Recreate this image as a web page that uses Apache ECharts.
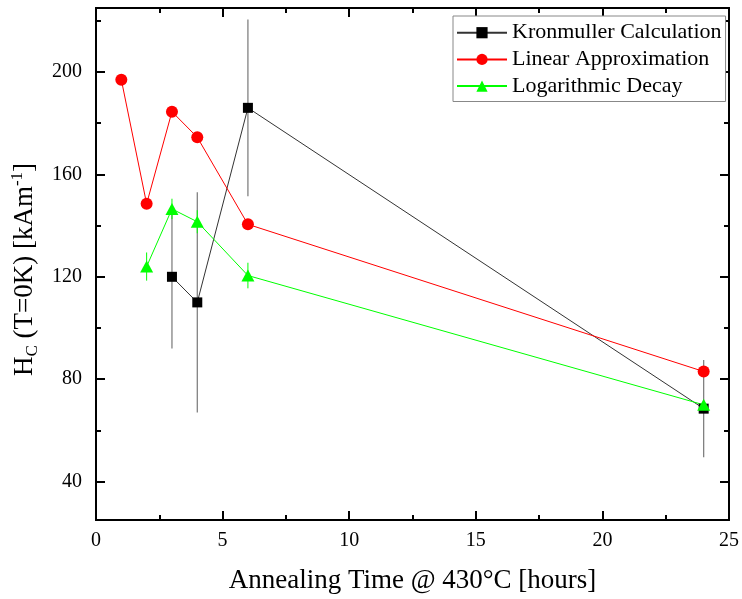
<!DOCTYPE html>
<html>
<head>
<meta charset="utf-8">
<script src="https://cdn.jsdelivr.net/npm/echarts@6/dist/echarts.min.js"></script>
<style>
  html, body { margin: 0; padding: 0; background: #fff; }
  #chart { width: 742px; height: 599px; }
</style>
</head>
<body>
<div id="chart"></div>
<script>
// Coercivity H_C (T=0K) versus annealing time at 430 °C
const kronX = [3, 4, 6, 24];
const kronY = [120, 110, 186, 68.5];
const kronErr = [28, 43, 34.5, 19];

const linX = [1, 2, 3, 4, 6, 24];
const linY = [197, 148.5, 184.5, 174.5, 140.5, 83];

const logX = [2, 3, 4, 6, 24];
const logY = [124, 146.5, 141.5, 120.5, 70];
const logErr = [5.5, 4, 4.5, 5, 1];

const xTicks = [0, 5, 10, 15, 20, 25];
const yTicks = [40, 80, 120, 160, 200];
const yMinorTicks = [60, 100, 140, 180, 220];

const SERIF = 'Liberation Serif';

function pairs(xs, ys) {
  return xs.map((x, i) => [x, ys[i]]);
}
function bars(xs, ys, es) {
  return xs.map((x, i) => [x, ys[i] - es[i], ys[i] + es[i]]);
}
function errorBarSeries(name, data, color, width) {
  return {
    name: name,
    type: 'custom',
    xAxisIndex: 0,
    yAxisIndex: 0,
    data: data,
    renderItem: function (params, api) {
      const lo = api.coord([api.value(0), api.value(1)]);
      const hi = api.coord([api.value(0), api.value(2)]);
      return {
        type: 'line',
        shape: { x1: lo[0], y1: lo[1], x2: hi[0], y2: hi[1] },
        style: { stroke: color, lineWidth: width }
      };
    }
  };
}

const axisLineStyle = { color: '#000', width: 2 };

function yAxisDef(position, values, len, withLabels) {
  return {
    type: 'value',
    position: position,
    min: 25,
    max: 225,
    axisLine: { show: true, lineStyle: axisLineStyle },
    splitLine: { show: false },
    axisTick: {
      show: true, inside: true, length: len,
      customValues: values,
      lineStyle: { color: '#000', width: 2 }
    },
    axisLabel: withLabels ? {
      show: true, customValues: values, margin: 14,
      fontFamily: SERIF, fontSize: 20, color: '#000'
    } : { show: false }
  };
}

const yName = '{n|H}{sub|C}{n| (T=0K) [kAm}{sup|-1}{n|]}';

const yAxes = [
  yAxisDef('left', yTicks, 9, true),
  yAxisDef('left', yMinorTicks, 5, false),
  yAxisDef('right', yTicks, 9, false),
  yAxisDef('right', yMinorTicks, 5, false)
];
yAxes[0].name = yName;
yAxes[0].nameLocation = 'middle';
yAxes[0].nameGap = 53;
yAxes[0].nameTextStyle = {
  padding: [0, 11, 0, 0],
  rich: {
    n: { fontFamily: SERIF, fontSize: 27, color: '#000', lineHeight: 32 },
    sub: { fontFamily: SERIF, fontSize: 17, color: '#000', lineHeight: 17, verticalAlign: 'bottom' },
    sup: { fontFamily: SERIF, fontSize: 17, color: '#000', lineHeight: 17, verticalAlign: 'top' }
  }
};

function xAxisDef(position, withLabels) {
  const ax = {
    type: 'value',
    position: position,
    min: xTicks[0],
    max: xTicks[xTicks.length - 1],
    interval: xTicks[1] - xTicks[0],
    axisLine: { show: true, lineStyle: axisLineStyle },
    splitLine: { show: false },
    axisTick: { show: true, inside: true, length: 9, lineStyle: { color: '#000', width: 2 } },
    minorTick: { show: true, splitNumber: 2, length: 5, lineStyle: { color: '#000', width: 2 } },
    minorSplitLine: { show: false },
    axisLabel: withLabels ? {
      show: true, margin: 11, fontFamily: SERIF, fontSize: 20, color: '#000'
    } : { show: false }
  };
  if (withLabels) {
    ax.name = 'Annealing Time @ 430°C [hours]';
    ax.nameLocation = 'middle';
    ax.nameGap = 47;
    ax.nameTextStyle = { fontFamily: SERIF, fontSize: 27, color: '#000' };
  }
  return ax;
}

const chart = echarts.init(document.getElementById('chart'), null, { renderer: 'canvas' });

chart.setOption({
  animation: false,
  backgroundColor: '#fff',
  grid: { left: 96, right: 11, top: 8, bottom: 79, containLabel: false },
  xAxis: [xAxisDef('bottom', true), xAxisDef('top', false)],
  yAxis: yAxes,
  legend: {
    orient: 'vertical',
    left: 453,
    top: 16,
    data: ['Kronmuller Calculation', 'Linear Approximation', 'Logarithmic Decay'],
    itemWidth: 50,
    itemHeight: 14,
    itemGap: 4.7,
    padding: [5.7, 4, 4.4, 3],
    borderColor: '#888',
    borderWidth: 1,
    backgroundColor: '#fff',
    textStyle: { fontFamily: SERIF, fontSize: 22, color: '#000' }
  },
  series: [
    errorBarSeries('Kronmuller error', bars(kronX, kronY, kronErr), '#777', 1.2),
    {
      name: 'Kronmuller Calculation',
      type: 'line',
      data: pairs(kronX, kronY),
      symbol: 'rect',
      symbolSize: 10,
      itemStyle: { color: '#000' },
      lineStyle: { color: '#333', width: 1 }
    },
    errorBarSeries('Logarithmic error', bars(logX, logY, logErr), '#00ff00', 1),
    {
      name: 'Logarithmic Decay',
      type: 'line',
      data: pairs(logX, logY),
      symbol: 'triangle',
      symbolSize: [13, 12],
      itemStyle: { color: '#00ff00' },
      lineStyle: { color: '#00ff00', width: 1 }
    },
    {
      name: 'Linear Approximation',
      type: 'line',
      data: pairs(linX, linY),
      symbol: 'circle',
      symbolSize: 12,
      itemStyle: { color: '#ff0000' },
      lineStyle: { color: '#ff0000', width: 1 }
    }
  ]
});
</script>
</body>
</html>
